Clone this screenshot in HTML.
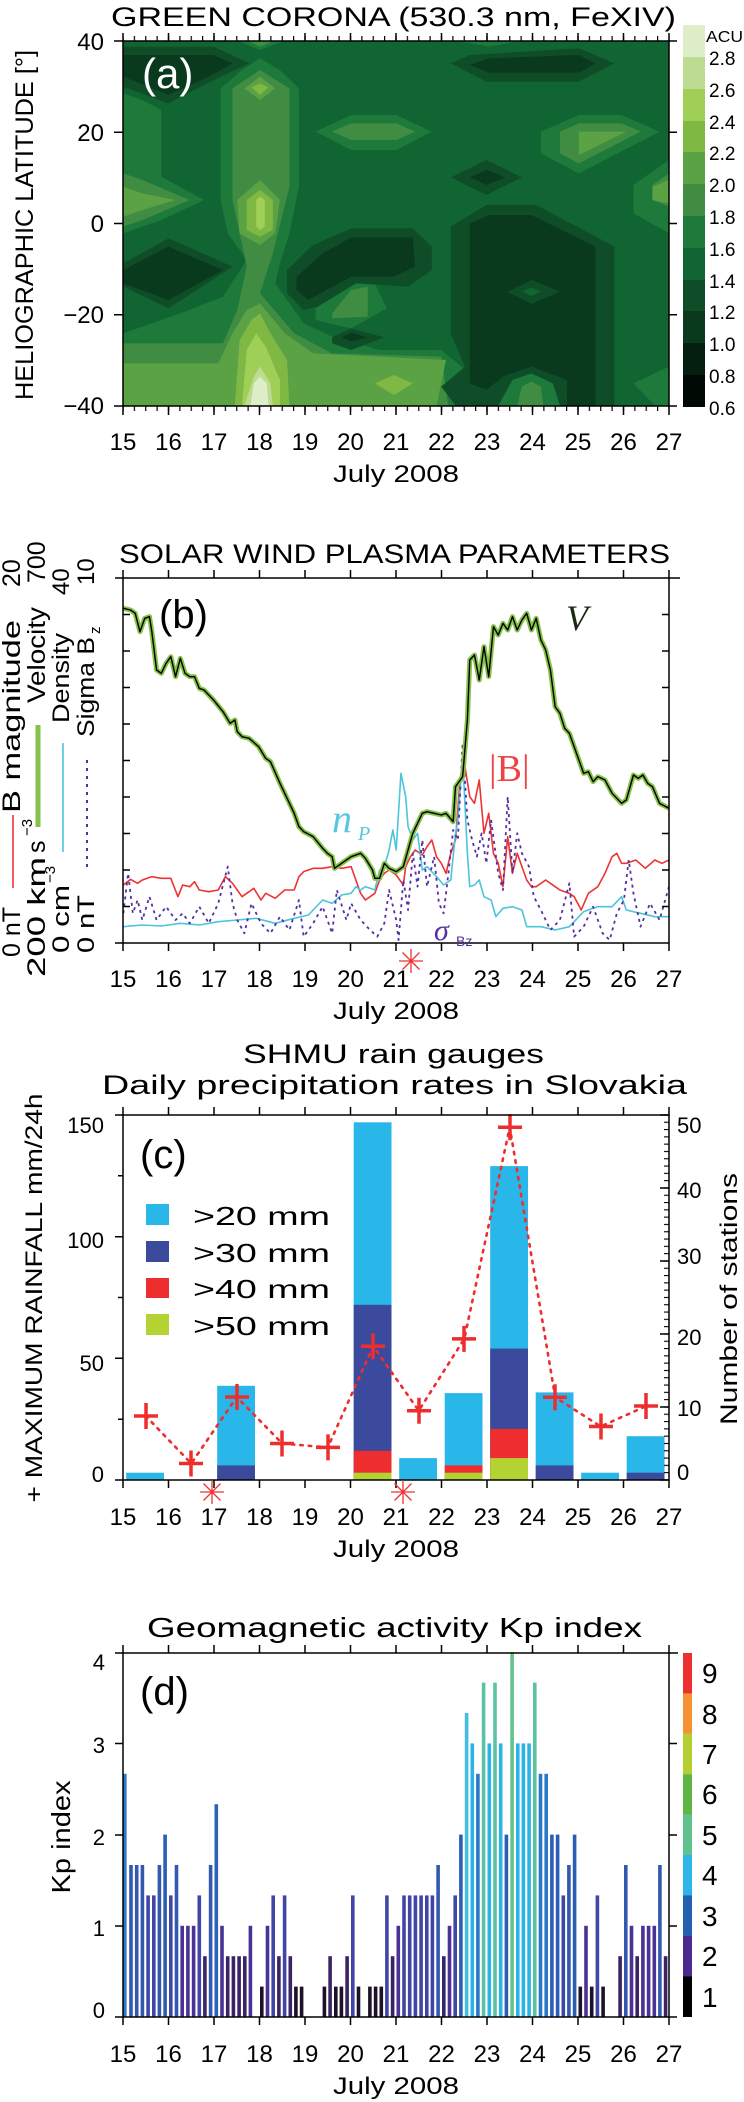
<!DOCTYPE html>
<html><head><meta charset="utf-8"><style>
html,body{margin:0;padding:0;background:#fff}
svg{display:block}
text{font-family:"Liberation Sans",sans-serif;fill:#000}
.s{font-family:"Liberation Serif",serif}
.a{y:1986.6px;height:30.4px;fill:#1e1228}
.b{y:1956.2px;height:60.8px;fill:#3b2466}
.c{y:1925.8px;height:91.2px;fill:#4a3394}
.d{y:1895.4px;height:121.6px;fill:#4146a6}
.e{y:1865px;height:152px;fill:#3358b0}
.f{y:1834.6px;height:182.4px;fill:#2a5eb4}
.g{y:1804.2px;height:212.8px;fill:#2a62b6}
.h{y:1773.8px;height:243.2px;fill:#2a78c8}
.i{y:1743.4px;height:273.6px;fill:#2bb3e6}
.j{y:1713px;height:304px;fill:#45bde2}
.k{y:1682.6px;height:334.4px;fill:#5cc2a4}
.l{y:1652.2px;height:364.8px;fill:#62c48a}
</style></head><body>
<svg width="744" height="2102" viewBox="0 0 744 2102" xmlns="http://www.w3.org/2000/svg">
<defs>
<clipPath id="ca"><rect x="123" y="41" width="546" height="365"/></clipPath>
<clipPath id="cb"><rect x="123" y="578" width="546" height="365"/></clipPath>
<pattern id="qt" patternUnits="userSpaceOnUse" x="122.4" y="0" width="11.375" height="2102"><rect x="0" y="0" width="1.2" height="2102" fill="#000"/></pattern>
<pattern id="st" patternUnits="userSpaceOnUse" x="0" y="1114.4" width="744" height="7.3"><rect x="0" y="0" width="744" height="1.1" fill="#000"/></pattern>
</defs>

<!-- ============ PANEL A ============ -->
<text x="111" y="26" font-size="27" textLength="565" lengthAdjust="spacingAndGlyphs">GREEN CORONA (530.3 nm, FeXIV)</text>
<g clip-path="url(#ca)">
<rect x="123" y="41" width="546" height="365" fill="#116532"/>
<g transform="scale(0.47449,0.33333)">
<g fill="#1d7a3a">
<polygon points="260,280 300,300 340,330 340,530 430,600 340,660 260,700"/>
<polygon points="465,265 510,210 548,175 590,210 630,265 630,560 610,700 590,790 580,850 640,970 700,1010 800,1050 930,1050 990,1120 990,1217 260,1217 260,1000 380,940 470,890 520,780 480,700 465,600"/>
<polygon points="665,395 740,345 835,345 910,395 835,450 740,450"/>
<polygon points="1140,395 1220,345 1310,345 1390,395 1220,520 1140,460"/>
<polygon points="1410,480 1335,555 1335,640 1410,700"/>
<polygon points="665,925 740,850 790,850 815,925 740,985 665,960"/>
<polygon points="1335,1150 1410,1100 1410,1217 1380,1217"/>
<polygon points="500,122 548,150 600,122"/>
<polygon points="960,122 1030,140 1100,122"/>
</g>
<g fill="#408c42">
<polygon points="490,265 548,210 610,265 610,560 575,760 548,880 620,1000 700,1060 930,1070 945,1217 260,1217 260,1030 470,1030 500,930 520,800 490,600"/>
<polygon points="260,520 300,540 400,600 300,660 260,680"/>
<polygon points="700,395 740,370 835,370 875,395 835,420 740,420"/>
<polygon points="1180,395 1220,370 1310,370 1350,395 1220,490 1180,460"/>
<polygon points="1410,520 1375,555 1375,600 1410,620"/>
<polygon points="700,940 740,870 775,860 775,950 700,955"/>
<polygon points="520,122 548,140 580,122"/>
</g>
<g fill="#5aa244">
<polygon points="260,1090 460,1090 490,1000 520,930 548,910 600,1000 660,1060 940,1080 920,1217 260,1217"/>
<polygon points="500,600 548,540 590,600 580,700 548,735 505,700"/>
<polygon points="260,560 300,580 370,600 300,630 260,650"/>
<polygon points="1220,395 1320,395 1220,465"/>
<polygon points="1410,540 1375,560 1375,600 1410,610"/>
<polygon points="515,265 548,230 580,265 548,300"/>
</g>
<g fill="#7fb944">
<polygon points="530,262 548,250 565,262 548,285"/>
<polygon points="520,600 548,570 575,600 575,690 548,710 520,690"/>
<polygon points="495,1217 505,1020 530,960 548,940 570,1000 605,1080 610,1217"/>
<polygon points="790,1150 830,1125 870,1150 830,1185"/>
</g>
<polygon fill="#a0cf57" points="540,600 548,590 558,600 558,680 548,690 540,680"/>
<polygon fill="#a0cf57" points="510,1217 520,1050 540,1000 560,1040 590,1140 590,1217"/>
<polygon fill="#bedc91" points="515,1217 535,1130 548,1100 570,1150 575,1217"/>
<polygon fill="#ddeec8" points="528,1217 535,1150 548,1130 562,1150 566,1217"/>
<g fill="#0e4d27">
<polygon points="260,140 450,140 525,190 450,240 355,310 260,260"/>
<polygon points="990,165 1220,145 1295,190 1220,245 1025,245 950,190"/>
<polygon points="950,532 1025,480 1100,532 1025,585"/>
<polygon points="260,790 355,715 490,800 355,925 260,860"/>
<polygon points="605,810 660,735 740,685 870,685 910,740 910,810 860,860 750,850 670,920 640,930 605,880"/>
<polygon points="700,1012 740,985 810,1012 740,1050 700,1030"/>
<polygon points="950,680 1025,615 1130,615 1295,740 1295,1217 960,1217 930,1160 980,1100 950,1000"/>
</g>
<g fill="#0a3a1e">
<polygon points="260,165 450,165 490,190 440,230 355,285 260,230"/>
<polygon points="1030,175 1220,165 1255,190 1220,218 1030,218 990,195"/>
<polygon points="990,532 1025,510 1065,532 1025,555"/>
<polygon points="260,810 355,740 470,810 355,900 260,850"/>
<polygon points="625,830 680,760 740,712 870,712 875,800 830,830 740,830 650,900 625,870"/>
<polygon points="990,670 1030,645 1120,645 1255,740 1255,1217 1195,1217 1195,1140 1120,1100 1060,1130 1025,1170 990,1150"/>
<polygon points="720,1012 740,998 775,1012 740,1025"/>
</g>
<polygon fill="#0e4d27" points="1070,875 1120,840 1180,875 1120,912"/>
<polygon fill="#116532" points="1100,875 1120,862 1140,875 1120,888"/>
<polygon fill="#0e4d27" points="1030,1217 1060,1150 1120,1110 1175,1150 1195,1217"/>
<polygon fill="#1d7a3a" points="1050,1217 1080,1140 1120,1120 1165,1150 1180,1217"/>
<polygon fill="#408c42" points="1090,1217 1100,1160 1120,1145 1140,1160 1145,1217"/>
</g>
</g>
<rect x="123" y="41" width="546" height="365" fill="none" stroke="#000" stroke-width="1.5"/>
<rect x="123" y="36" width="546" height="5" fill="url(#qt)"/>
<rect x="123" y="406" width="546" height="5" fill="url(#qt)"/>
<path stroke="#000" stroke-width="1.5" fill="none" d="M123,33V41M168.5,33V41M214,33V41M259.5,33V41M305,33V41M350.5,33V41M396,33V41M441.5,33V41M487,33V41M532.5,33V41M578,33V41M623.5,33V41M669,33V41
M123,406V415M168.5,406V415M214,406V415M259.5,406V415M305,406V415M350.5,406V415M396,406V415M441.5,406V415M487,406V415M532.5,406V415M578,406V415M623.5,406V415M669,406V415
M114,41H123M114,132.3H123M114,223.5H123M114,314.8H123M114,406H123
M669,41H677M669,132.3H677M669,223.5H677M669,314.8H677M669,406H677"/>
<text x="142" y="88" font-size="42" fill="#fff" style="fill:#fff">(a)</text>
<g font-size="24" text-anchor="end">
<text x="104" y="50">40</text><text x="104" y="141">20</text><text x="104" y="232">0</text><text x="104" y="323">−20</text><text x="104" y="414">−40</text>
</g>
<text transform="translate(33,225) rotate(-90)" text-anchor="middle" font-size="25" textLength="350" lengthAdjust="spacingAndGlyphs">HELIOGRAPHIC LATITUDE [°]</text>
<g font-size="24" text-anchor="middle">
<text x="123" y="450">15</text><text x="168.5" y="450">16</text><text x="214" y="450">17</text><text x="259.5" y="450">18</text><text x="305" y="450">19</text><text x="350.5" y="450">20</text><text x="396" y="450">21</text><text x="441.5" y="450">22</text><text x="487" y="450">23</text><text x="532.5" y="450">24</text><text x="578" y="450">25</text><text x="623.5" y="450">26</text><text x="669" y="450">27</text>
</g>
<text x="333" y="482" font-size="24" textLength="126" lengthAdjust="spacingAndGlyphs">July 2008</text>
<!-- colorbar a -->
<g>
<rect x="683" y="25" width="22" height="32" fill="#ddeec8"/>
<rect x="683" y="57" width="22" height="32" fill="#bedc91"/>
<rect x="683" y="89" width="22" height="32" fill="#a0cf57"/>
<rect x="683" y="121" width="22" height="32" fill="#7fb944"/>
<rect x="683" y="152" width="22" height="32" fill="#5aa244"/>
<rect x="683" y="184" width="22" height="32" fill="#408c42"/>
<rect x="683" y="216" width="22" height="32" fill="#1d7a3a"/>
<rect x="683" y="248" width="22" height="32" fill="#116532"/>
<rect x="683" y="280" width="22" height="32" fill="#0e4d27"/>
<rect x="683" y="311" width="22" height="32" fill="#0a3a1e"/>
<rect x="683" y="343" width="22" height="32" fill="#041e10"/>
<rect x="683" y="375" width="22" height="32" fill="#000a05"/>
</g>
<text x="706" y="42" font-size="16" textLength="37" lengthAdjust="spacingAndGlyphs">ACU</text>
<g font-size="19">
<text x="709" y="65">2.8</text><text x="709" y="97">2.6</text><text x="709" y="129">2.4</text><text x="709" y="160">2.2</text><text x="709" y="192">2.0</text><text x="709" y="224">1.8</text><text x="709" y="256">1.6</text><text x="709" y="288">1.4</text><text x="709" y="319">1.2</text><text x="709" y="351">1.0</text><text x="709" y="383">0.8</text><text x="709" y="415">0.6</text>
</g>

<!-- ============ PANEL B ============ -->
<text x="119" y="563" font-size="27" textLength="551" lengthAdjust="spacingAndGlyphs">SOLAR WIND PLASMA PARAMETERS</text>
<g clip-path="url(#cb)">
<g transform="translate(0,520) scale(0.47449,0.33333)" fill="none" stroke-linejoin="round">
<polyline vector-effect="non-scaling-stroke" stroke="#ee3333" stroke-width="1.6" points="260,1095 275,1078 290,1090 300,1080 320,1070 340,1075 360,1075 375,1130 385,1095 400,1100 410,1085 420,1110 440,1115 460,1110 475,1070 490,1090 500,1110 510,1130 520,1120 535,1105 550,1140 560,1120 580,1135 600,1110 620,1110 630,1070 640,1055 660,1045 680,1045 700,1040 720,1045 740,1040 750,1080 760,1120 770,1140 780,1130 790,1120 800,1080 810,1060 820,1050 835,1065 850,1095 855,1040 865,1010 875,990 890,1005 900,980 910,960 920,1010 930,1030 940,1060 950,1000 960,960 970,770 980,740 990,830 1000,850 1010,780 1020,940 1030,880 1040,1000 1050,1030 1060,1100 1070,950 1080,1060 1090,1000 1100,1040 1110,1080 1120,1100 1130,1100 1150,1080 1170,1100 1180,1110 1200,1120 1210,1130 1225,1170 1240,1120 1260,1100 1275,1060 1290,1010 1300,1000 1310,1030 1320,1030 1340,1020 1360,1045 1380,1020 1395,1030 1410,1020"/>
<polyline vector-effect="non-scaling-stroke" stroke="#4cc4dc" stroke-width="1.6" points="260,1220 300,1215 340,1218 380,1210 420,1215 460,1205 500,1200 540,1195 580,1210 620,1195 650,1185 680,1140 700,1150 720,1125 740,1120 750,1100 760,1110 770,1100 790,1110 800,1050 810,1040 820,990 828,930 835,990 845,760 855,830 860,920 870,960 880,940 890,1050 900,1040 920,1070 935,1095 950,1080 960,940 965,900 975,710 985,1000 990,1100 1000,1095 1010,1080 1020,1130 1035,1140 1045,1190 1060,1165 1080,1160 1100,1170 1110,1220 1140,1220 1170,1230 1200,1220 1230,1175 1260,1160 1290,1160 1310,1130 1320,1170 1350,1180 1380,1190 1410,1190"/>
<polyline vector-effect="non-scaling-stroke" stroke="#5530a0" stroke-width="1.8" stroke-dasharray="3,4" points="260,1180 270,1060 280,1180 290,1140 300,1200 315,1130 330,1200 350,1160 370,1200 385,1180 400,1210 420,1160 440,1210 460,1150 480,1040 490,1150 500,1200 515,1240 530,1150 550,1210 570,1240 590,1190 610,1230 630,1140 640,1250 660,1210 680,1160 700,1240 710,1110 730,1200 740,1150 760,1200 780,1230 795,1250 810,1210 820,1110 835,1200 840,1260 850,1080 860,1170 870,1000 880,1100 890,960 900,1100 915,1010 925,1150 935,1180 945,1060 955,930 965,960 975,670 985,900 995,960 1005,1010 1015,940 1025,1030 1035,900 1050,1060 1060,1110 1070,830 1080,1060 1090,940 1100,1000 1115,1040 1125,1130 1140,1170 1160,1230 1180,1200 1200,1090 1210,1250 1230,1220 1250,1160 1270,1240 1285,1260 1300,1180 1315,1140 1325,1020 1335,1120 1350,1220 1370,1150 1390,1200 1410,1100"/>
<g id="vel">
<polyline vector-effect="non-scaling-stroke" stroke="#86c24a" stroke-width="5" points="260,265 275,270 285,280 295,335 305,295 315,290 320,335 330,450 340,460 350,430 360,410 370,470 380,415 390,460 400,470 410,470 420,505 430,510 440,525 450,540 470,575 485,610 495,600 500,635 510,650 525,655 545,680 560,715 570,725 590,790 600,820 610,850 620,880 630,920 640,935 660,950 680,985 690,1000 700,1010 705,1045 720,1030 740,1010 760,1000 770,1015 785,1050 790,1075 800,1075 810,1030 820,1045 835,1055 850,1040 860,990 870,940 880,910 890,880 900,875 915,880 930,885 940,880 955,905 960,800 970,780 975,770 985,600 990,420 1000,405 1010,480 1020,380 1030,470 1040,320 1050,345 1060,310 1070,330 1080,290 1090,330 1100,300 1110,280 1120,330 1130,295 1140,360 1150,390 1160,450 1170,560 1180,580 1190,625 1200,640 1215,700 1230,760 1240,755 1250,785 1260,770 1275,780 1290,820 1310,850 1320,840 1335,765 1345,775 1355,765 1365,790 1375,800 1390,850 1410,865"/>
<polyline vector-effect="non-scaling-stroke" stroke="#000" stroke-width="1.4" points="260,265 275,270 285,280 295,335 305,295 315,290 320,335 330,450 340,460 350,430 360,410 370,470 380,415 390,460 400,470 410,470 420,505 430,510 440,525 450,540 470,575 485,610 495,600 500,635 510,650 525,655 545,680 560,715 570,725 590,790 600,820 610,850 620,880 630,920 640,935 660,950 680,985 690,1000 700,1010 705,1045 720,1030 740,1010 760,1000 770,1015 785,1050 790,1075 800,1075 810,1030 820,1045 835,1055 850,1040 860,990 870,940 880,910 890,880 900,875 915,880 930,885 940,880 955,905 960,800 970,780 975,770 985,600 990,420 1000,405 1010,480 1020,380 1030,470 1040,320 1050,345 1060,310 1070,330 1080,290 1090,330 1100,300 1110,280 1120,330 1130,295 1140,360 1150,390 1160,450 1170,560 1180,580 1190,625 1200,640 1215,700 1230,760 1240,755 1250,785 1260,770 1275,780 1290,820 1310,850 1320,840 1335,765 1345,775 1355,765 1365,790 1375,800 1390,850 1410,865"/>
</g>
</g>
</g>
<rect x="123" y="578" width="546" height="365" fill="none" stroke="#000" stroke-width="1.5"/>
<path stroke="#000" stroke-width="1.5" fill="none" d="M123,570V578M168.5,570V578M214,570V578M259.5,570V578M305,570V578M350.5,570V578M396,570V578M441.5,570V578M487,570V578M532.5,570V578M578,570V578M623.5,570V578M669,570V578M669,578H680
M123,943V951M168.5,943V951M214,943V951M259.5,943V951M305,943V951M350.5,943V951M396,943V951M441.5,943V951M487,943V951M532.5,943V951M578,943V951M623.5,943V951M669,943V951
M115,578H123M115,943H123
M123,614.5h7M123,651h7M123,687.5h7M123,724h7M123,760.5h7M123,797h7M123,833.5h7M123,870h7M123,906.5h7
M669,614.5h-7M669,651h-7M669,687.5h-7M669,724h-7M669,760.5h-7M669,797h-7M669,833.5h-7M669,870h-7M669,906.5h-7"/>
<text x="159" y="628" font-size="40">(b)</text>
<text x="566" y="630" class="s" font-size="36" font-style="italic" style="fill:#1a2a10">V</text>
<text x="489" y="781" class="s" font-size="38" style="fill:#ee4444">|B|</text>
<text x="332" y="832" class="s" font-size="40" font-style="italic" style="fill:#55c8e0">n</text>
<text x="358" y="840" class="s" font-size="20" font-style="italic" style="fill:#55c8e0">P</text>
<text x="434" y="940" class="s" font-size="30" font-style="italic" style="fill:#5530a0">σ</text>
<text x="456" y="946" font-size="14" style="fill:#5530a0">Bz</text>
<!-- star b -->
<path stroke="#ee3333" stroke-width="1.3" d="M411,949V973M399,961H423M402.5,952.5L419.5,969.5M402.5,969.5L419.5,952.5"/>
<!-- rotated labels b -->
<g class="s" font-size="25">
<text transform="translate(20,957) rotate(-90)">0 nT</text>
<text transform="translate(20,813) rotate(-90)" textLength="193" lengthAdjust="spacingAndGlyphs">B magnitude</text>
<text transform="translate(20,587) rotate(-90)">20</text>
<text transform="translate(45,977) rotate(-90)" textLength="120" lengthAdjust="spacingAndGlyphs">200 km</text>
<text transform="translate(45,853) rotate(-90)">s</text>
<text transform="translate(32,836) rotate(-90)" font-size="15">−3</text>
<text transform="translate(45,703) rotate(-90)" textLength="96" lengthAdjust="spacingAndGlyphs">Velocity</text>
<text transform="translate(45,583) rotate(-90)">700</text>
</g>
<g font-size="24">
<text transform="translate(69,953) rotate(-90)" textLength="68" lengthAdjust="spacingAndGlyphs">0 cm</text>
<text transform="translate(55,883) rotate(-90)" font-size="15">−3</text>
<text transform="translate(69,723) rotate(-90)" textLength="90" lengthAdjust="spacingAndGlyphs">Density</text>
<text transform="translate(69,595) rotate(-90)">40</text>
<text transform="translate(94,953) rotate(-90)" textLength="58" lengthAdjust="spacingAndGlyphs">0 nT</text>
<text transform="translate(94,737) rotate(-90)" textLength="100" lengthAdjust="spacingAndGlyphs">Sigma B</text>
<text transform="translate(100,634) rotate(-90)" font-size="15">z</text>
<text transform="translate(94,585) rotate(-90)">10</text>
</g>
<path d="M13,815V888" stroke="#ee3333" stroke-width="1.6"/>
<path d="M38,725V827" stroke="#86c24a" stroke-width="5"/>
<path d="M63,743V852" stroke="#4cc4dc" stroke-width="1.6"/>
<path d="M87,760V870" stroke="#5530a0" stroke-width="2" stroke-dasharray="3,5"/>
<g font-size="24" text-anchor="middle">
<text x="123" y="987">15</text><text x="168.5" y="987">16</text><text x="214" y="987">17</text><text x="259.5" y="987">18</text><text x="305" y="987">19</text><text x="350.5" y="987">20</text><text x="396" y="987">21</text><text x="441.5" y="987">22</text><text x="487" y="987">23</text><text x="532.5" y="987">24</text><text x="578" y="987">25</text><text x="623.5" y="987">26</text><text x="669" y="987">27</text>
</g>
<text x="333" y="1019" font-size="24" textLength="126" lengthAdjust="spacingAndGlyphs">July 2008</text>

<!-- ============ PANEL C ============ -->
<text x="243" y="1063" font-size="27" textLength="301" lengthAdjust="spacingAndGlyphs">SHMU rain gauges</text>
<text x="102" y="1094" font-size="27" textLength="585" lengthAdjust="spacingAndGlyphs">Daily precipitation rates in Slovakia</text>
<g>
<rect x="126.2" y="1472.7" width="37.8" height="7.3" fill="#29b6e8"/>
<rect x="217.2" y="1385.8" width="37.8" height="94.2" fill="#29b6e8"/>
<rect x="217.2" y="1465.4" width="37.8" height="14.6" fill="#3b4a9c"/>
<rect x="353.7" y="1122.3" width="37.8" height="357.7" fill="#29b6e8"/>
<rect x="353.7" y="1304.8" width="37.8" height="175.2" fill="#3b4a9c"/>
<rect x="353.7" y="1450.8" width="37.8" height="29.2" fill="#ee2e2e"/>
<rect x="353.7" y="1472.7" width="37.8" height="7.3" fill="#b5d233"/>
<rect x="399.2" y="1458.1" width="37.8" height="21.9" fill="#29b6e8"/>
<rect x="444.7" y="1393.1" width="37.8" height="86.9" fill="#29b6e8"/>
<rect x="444.7" y="1465.4" width="37.8" height="14.6" fill="#ee2e2e"/>
<rect x="444.7" y="1472.7" width="37.8" height="7.3" fill="#b5d233"/>
<rect x="490.2" y="1166.1" width="37.8" height="313.9" fill="#29b6e8"/>
<rect x="490.2" y="1348.6" width="37.8" height="131.4" fill="#3b4a9c"/>
<rect x="490.2" y="1428.9" width="37.8" height="51.1" fill="#ee2e2e"/>
<rect x="490.2" y="1458.1" width="37.8" height="21.9" fill="#b5d233"/>
<rect x="535.7" y="1392.4" width="37.8" height="87.6" fill="#29b6e8"/>
<rect x="535.7" y="1465.4" width="37.8" height="14.6" fill="#3b4a9c"/>
<rect x="581.2" y="1472.7" width="37.8" height="7.3" fill="#29b6e8"/>
<rect x="626.7" y="1436.2" width="37.8" height="43.8" fill="#29b6e8"/>
<rect x="626.7" y="1472.7" width="37.8" height="7.3" fill="#3b4a9c"/>
</g>
<polyline fill="none" stroke="#ee2e2e" stroke-width="2.6" stroke-dasharray="2.5,6" stroke-linecap="round" points="145.75,1416 191.25,1463.5 236.75,1397 282.25,1443.5 327.75,1447.4 373.25,1346.2 418.75,1410.7 464.25,1338.9 509.75,1127.2 555.25,1397.3 600.75,1426.5 646.25,1406"/>
<path stroke="#ee2e2e" stroke-width="3.5" fill="none" d="M134,1416h24M146,1403v26 M179,1463.5h24M191,1450.5v26 M225,1397h24M237,1384v26 M270,1443.5h24M282,1430.5v26 M316,1447.4h24M328,1434.4v26 M361,1346.2h24M373,1333.2v26 M407,1410.7h24M419,1397.7v26 M452,1338.9h24M464,1325.9v26 M498,1127.2h24M510,1114.2v26 M543,1397.3h24M555,1384.3v26 M589,1426.5h24M601,1413.5v26 M634,1406h24M646,1393v26"/>
<rect x="123" y="1115" width="546" height="365" fill="none" stroke="#000" stroke-width="1.5"/>
<rect x="664" y="1115" width="5" height="365" fill="url(#st)"/>
<path stroke="#000" stroke-width="1.5" fill="none" d="M123,1107V1115M168.5,1107V1115M214,1107V1115M259.5,1107V1115M305,1107V1115M350.5,1107V1115M396,1107V1115M441.5,1107V1115M487,1107V1115M532.5,1107V1115M578,1107V1115M623.5,1107V1115M669,1107V1115
M123,1480V1488M168.5,1480V1488M214,1480V1488M259.5,1480V1488M305,1480V1488M350.5,1480V1488M396,1480V1488M441.5,1480V1488M487,1480V1488M532.5,1480V1488M578,1480V1488M623.5,1480V1488M669,1480V1488
M115,1115H123M118,1175.8H123M115,1236.7H123M118,1297.5H123M115,1358.3H123M118,1419.2H123M115,1480H123
M669,1115h-9M669,1188h-9M669,1261h-9M669,1334h-9M669,1407h-9M669,1480h-9"/>
<path stroke="#ee3333" stroke-width="1.3" d="M212,1480V1504M200,1492H224M203.5,1483.5L220.5,1500.5M203.5,1500.5L220.5,1483.5 M403,1480V1504M391,1492H415M394.5,1483.5L411.5,1500.5M394.5,1500.5L411.5,1483.5"/>
<text x="140" y="1168" font-size="40">(c)</text>
<rect x="146" y="1204" width="23" height="21" fill="#29b6e8"/>
<rect x="146" y="1241" width="23" height="21" fill="#3b4a9c"/>
<rect x="146" y="1278" width="23" height="20" fill="#ee2e2e"/>
<rect x="146" y="1314" width="23" height="21" fill="#b5d233"/>
<g font-size="26">
<text x="193" y="1225" textLength="137" lengthAdjust="spacingAndGlyphs">&gt;20 mm</text>
<text x="193" y="1262" textLength="137" lengthAdjust="spacingAndGlyphs">&gt;30 mm</text>
<text x="193" y="1298" textLength="137" lengthAdjust="spacingAndGlyphs">&gt;40 mm</text>
<text x="193" y="1335" textLength="137" lengthAdjust="spacingAndGlyphs">&gt;50 mm</text>
</g>
<g font-size="22" text-anchor="end">
<text x="104" y="1133">150</text><text x="104" y="1248">100</text><text x="104" y="1371">50</text><text x="104" y="1482">0</text>
</g>
<g font-size="22">
<text x="677" y="1133">50</text><text x="677" y="1198">40</text><text x="677" y="1264">30</text><text x="677" y="1345">20</text><text x="677" y="1416">10</text><text x="677" y="1480">0</text>
</g>
<text transform="translate(737,1299) rotate(-90)" text-anchor="middle" font-size="24" textLength="252" lengthAdjust="spacingAndGlyphs">Number of stations</text>
<text transform="translate(42,1298) rotate(-90)" text-anchor="middle" font-size="24" textLength="409" lengthAdjust="spacingAndGlyphs">+ MAXIMUM RAINFALL mm/24h</text>
<g font-size="24" text-anchor="middle">
<text x="123" y="1525">15</text><text x="168.5" y="1525">16</text><text x="214" y="1525">17</text><text x="259.5" y="1525">18</text><text x="305" y="1525">19</text><text x="350.5" y="1525">20</text><text x="396" y="1525">21</text><text x="441.5" y="1525">22</text><text x="487" y="1525">23</text><text x="532.5" y="1525">24</text><text x="578" y="1525">25</text><text x="623.5" y="1525">26</text><text x="669" y="1525">27</text>
</g>
<text x="333" y="1557" font-size="24" textLength="126" lengthAdjust="spacingAndGlyphs">July 2008</text>

<!-- ============ PANEL D ============ -->
<text x="147" y="1637" font-size="28" textLength="495" lengthAdjust="spacingAndGlyphs">Geomagnetic activity Kp index</text>
<g transform="translate(123,0)"><rect class="h" x="0" width="3.6"/><rect class="e" x="6.2" width="3.6"/><rect class="e" x="11.9" width="3.6"/><rect class="e" x="17.6" width="3.6"/><rect class="d" x="23.3" width="3.6"/><rect class="d" x="29" width="3.6"/><rect class="e" x="34.6" width="3.6"/><rect class="f" x="40.3" width="3.6"/></g>
<g transform="translate(168.5,0)"><rect class="d" x="0.5" width="3.6"/><rect class="e" x="6.2" width="3.6"/><rect class="c" x="11.9" width="3.6"/><rect class="c" x="17.6" width="3.6"/><rect class="c" x="23.3" width="3.6"/><rect class="d" x="29" width="3.6"/><rect class="b" x="34.6" width="3.6"/><rect class="e" x="40.3" width="3.6"/></g>
<g transform="translate(214,0)"><rect class="g" x="0.5" width="3.6"/><rect class="c" x="6.2" width="3.6"/><rect class="b" x="11.9" width="3.6"/><rect class="b" x="17.6" width="3.6"/><rect class="b" x="23.3" width="3.6"/><rect class="b" x="29" width="3.6"/><rect class="c" x="34.6" width="3.6"/></g>
<g transform="translate(259.5,0)"><rect class="a" x="0.5" width="3.6"/><rect class="c" x="6.2" width="3.6"/><rect class="d" x="11.9" width="3.6"/><rect class="b" x="17.6" width="3.6"/><rect class="d" x="23.3" width="3.6"/><rect class="b" x="29" width="3.6"/><rect class="a" x="34.6" width="3.6"/><rect class="a" x="40.3" width="3.6"/></g>
<g transform="translate(305,0)"><rect class="a" x="17.6" width="3.6"/><rect class="b" x="23.3" width="3.6"/><rect class="a" x="29" width="3.6"/><rect class="a" x="34.6" width="3.6"/><rect class="b" x="40.3" width="3.6"/></g>
<g transform="translate(350.5,0)"><rect class="d" x="0.5" width="3.6"/><rect class="a" x="6.2" width="3.6"/><rect class="a" x="17.6" width="3.6"/><rect class="a" x="23.3" width="3.6"/><rect class="a" x="29" width="3.6"/><rect class="d" x="34.6" width="3.6"/><rect class="b" x="40.3" width="3.6"/></g>
<g transform="translate(396,0)"><rect class="c" x="0.5" width="3.6"/><rect class="d" x="6.2" width="3.6"/><rect class="d" x="11.9" width="3.6"/><rect class="d" x="17.6" width="3.6"/><rect class="d" x="23.3" width="3.6"/><rect class="d" x="29" width="3.6"/><rect class="d" x="34.6" width="3.6"/><rect class="e" x="40.3" width="3.6"/></g>
<g transform="translate(441.5,0)"><rect class="b" x="0.5" width="3.6"/><rect class="c" x="6.2" width="3.6"/><rect class="d" x="11.9" width="3.6"/><rect class="f" x="17.6" width="3.6"/><rect class="j" x="23.3" width="3.6"/><rect class="i" x="29" width="3.6"/><rect class="h" x="34.6" width="3.6"/><rect class="k" x="40.3" width="3.6"/></g>
<g transform="translate(487,0)"><rect class="i" x="0.5" width="3.6"/><rect class="k" x="6.2" width="3.6"/><rect class="i" x="11.9" width="3.6"/><rect class="f" x="17.6" width="3.6"/><rect class="l" x="23.3" width="3.6"/><rect class="i" x="29" width="3.6"/><rect class="i" x="34.6" width="3.6"/><rect class="i" x="40.3" width="3.6"/></g>
<g transform="translate(532.5,0)"><rect class="k" x="0.5" width="3.6"/><rect class="h" x="6.2" width="3.6"/><rect class="h" x="11.9" width="3.6"/><rect class="f" x="17.6" width="3.6"/><rect class="f" x="23.3" width="3.6"/><rect class="d" x="29" width="3.6"/><rect class="e" x="34.6" width="3.6"/><rect class="f" x="40.3" width="3.6"/></g>
<g transform="translate(578,0)"><rect class="a" x="0.5" width="3.6"/><rect class="c" x="6.2" width="3.6"/><rect class="a" x="11.9" width="3.6"/><rect class="d" x="17.6" width="3.6"/><rect class="a" x="23.3" width="3.6"/><rect class="b" x="40.3" width="3.6"/></g>
<g transform="translate(623.5,0)"><rect class="e" x="0.5" width="3.6"/><rect class="c" x="6.2" width="3.6"/><rect class="b" x="11.9" width="3.6"/><rect class="c" x="17.6" width="3.6"/><rect class="c" x="23.3" width="3.6"/><rect class="c" x="29" width="3.6"/><rect class="e" x="34.6" width="3.6"/><rect class="b" x="40.3" width="3.6"/></g>
<rect x="123" y="1653" width="546" height="364" fill="none" stroke="#000" stroke-width="1.5"/>
<path stroke="#000" stroke-width="1.5" fill="none" d="M123,1645V1653M168.5,1645V1653M214,1645V1653M259.5,1645V1653M305,1645V1653M350.5,1645V1653M396,1645V1653M441.5,1645V1653M487,1645V1653M532.5,1645V1653M578,1645V1653M623.5,1645V1653M669,1645V1653M669,1653H678
M123,2017V2025M168.5,2017V2025M214,2017V2025M259.5,2017V2025M305,2017V2025M350.5,2017V2025M396,2017V2025M441.5,2017V2025M487,2017V2025M532.5,2017V2025M578,2017V2025M623.5,2017V2025M669,2017V2025
M115,1653H123M115,1743.5H123M115,1835H123M115,1926H123M115,2017H123
M669,1743.5h8M669,1835h8M669,1926h8M669,2017h8"/>
<text x="140" y="1705" font-size="40">(d)</text>
<g font-size="22" text-anchor="end">
<text x="105" y="1670">4</text><text x="105" y="1753">3</text><text x="105" y="1845">2</text><text x="105" y="1936">1</text><text x="105" y="2018">0</text>
</g>
<text transform="translate(70,1837) rotate(-90)" text-anchor="middle" font-size="26" textLength="113" lengthAdjust="spacingAndGlyphs">Kp index</text>
<g>
<rect x="683" y="1653" width="9" height="40.5" fill="#ec3030"/>
<rect x="683" y="1693.4" width="9" height="40.5" fill="#f59332"/>
<rect x="683" y="1733.8" width="9" height="40.5" fill="#b5cf32"/>
<rect x="683" y="1774.2" width="9" height="40.5" fill="#5db546"/>
<rect x="683" y="1814.6" width="9" height="40.5" fill="#60c08e"/>
<rect x="683" y="1855" width="9" height="40.5" fill="#2bb5e8"/>
<rect x="683" y="1895.4" width="9" height="40.5" fill="#2560b0"/>
<rect x="683" y="1935.8" width="9" height="40.5" fill="#4a2a8e"/>
<rect x="683" y="1976.2" width="9" height="40.8" fill="#000"/>
</g>
<g font-size="28">
<text x="702" y="1683">9</text><text x="702" y="1724">8</text><text x="702" y="1764">7</text><text x="702" y="1804">6</text><text x="702" y="1845">5</text><text x="702" y="1885">4</text><text x="702" y="1926">3</text><text x="702" y="1966">2</text><text x="702" y="2007">1</text>
</g>
<g font-size="24" text-anchor="middle">
<text x="123" y="2062">15</text><text x="168.5" y="2062">16</text><text x="214" y="2062">17</text><text x="259.5" y="2062">18</text><text x="305" y="2062">19</text><text x="350.5" y="2062">20</text><text x="396" y="2062">21</text><text x="441.5" y="2062">22</text><text x="487" y="2062">23</text><text x="532.5" y="2062">24</text><text x="578" y="2062">25</text><text x="623.5" y="2062">26</text><text x="669" y="2062">27</text>
</g>
<text x="333" y="2094" font-size="24" textLength="126" lengthAdjust="spacingAndGlyphs">July 2008</text>
</svg>
</body></html>
